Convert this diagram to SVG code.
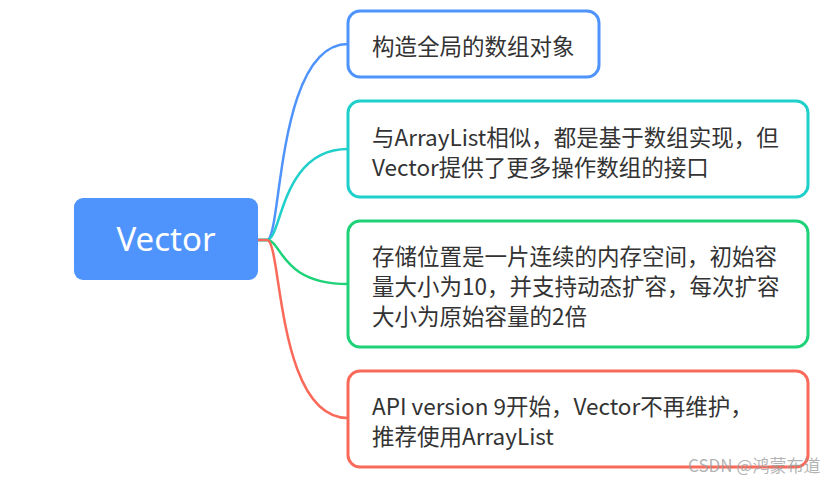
<svg xmlns="http://www.w3.org/2000/svg" width="840" height="485" viewBox="0 0 840 485">
<style>
.t{font-family:"Noto Sans CJK SC","Noto Sans",sans-serif;font-size:22.5px;fill:#333333}
.box{fill:#ffffff;stroke-width:3}
.c{fill:none;stroke-width:2.5}
</style>
<rect width="840" height="485" fill="#ffffff"/>
<g id="connectors">
<path class="c" stroke="#4f94fc" d="M258 240 H267 C282 240 276 44 348 44"/>
<path class="c" stroke="#1ecfca" d="M258 240 H267 C282 240 280 149 348 149"/>
<path class="c" stroke="#1ed278" d="M258 240 H267 C282 240 280 284 348 284"/>
<path class="c" stroke="#fa6a5a" d="M258 240 H267 C282 240 276 418 348 418"/>
</g>
<g id="root">
<rect x="74" y="198" width="184" height="82" rx="9" fill="#4f94fc"/>
<text x="166" y="251" text-anchor="middle" style="font-family:'Noto Sans','Noto Sans CJK SC',sans-serif;font-size:33px;fill:#ffffff">Vector</text>
</g>
<g id="n1">
<rect class="box" x="348" y="11" width="251" height="66" rx="12" stroke="#4f94fc"/>
<text class="t" x="372" y="55">构造全局的数组对象</text>
</g>
<g id="n2">
<rect class="box" x="348" y="101" width="460" height="96" rx="12" stroke="#1ecfca"/>
<text class="t" x="372" y="146">与ArrayList相似，都是基于数组实现，但</text>
<text class="t" x="372" y="176">Vector提供了更多操作数组的接口</text>
</g>
<g id="n3">
<rect class="box" x="348" y="221" width="460" height="126" rx="12" stroke="#1ed278"/>
<text class="t" x="372" y="265">存储位置是一片连续的内存空间，初始容</text>
<text class="t" x="372" y="295">量大小为10，并支持动态扩容，每次扩容</text>
<text class="t" x="372" y="325">大小为原始容量的2倍</text>
</g>
<g id="n4">
<rect class="box" x="348" y="371" width="460" height="96" rx="12" stroke="#fa6a5a"/>
<text class="t" x="372" y="415">API version 9开始，Vector不再维护，</text>
<text class="t" x="372" y="445">推荐使用ArrayList</text>
</g>
<text x="688" y="472" style="font-family:'Noto Sans CJK SC','Noto Sans',sans-serif;font-size:17px;fill:#999999;fill-opacity:0.75">CSDN @鸿蒙布道</text>
</svg>
